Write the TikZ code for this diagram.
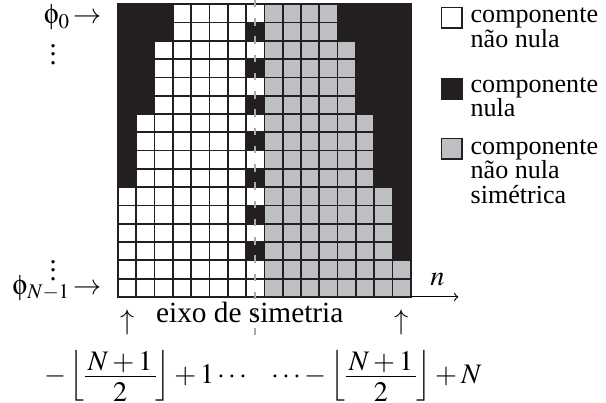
\documentclass[tikz,border=0pt]{standalone}
\usepackage{mathptmx}
\usepackage[Symbol]{upgreek}
\usepackage{fontspec}
\setmainfont{Liberation Serif}
\usetikzlibrary{positioning}
\definecolor{nullblack}{RGB}{35,31,32}
\definecolor{symgray}{RGB}{190,191,195}
\definecolor{axisgray}{RGB}{170,170,170}
\newcommand{\halffrac}[2]{\vcenter{\offinterlineskip\halign{\hfil$\,##\,$\hfil\cr#1\cr\noalign{\kern1.5pt\hrule\kern2.5pt}#2\cr}}}
\tikzset{
  cell/.style={draw=nullblack,line width=0.8pt,fill=white},
  symcell/.style={cell,fill=symgray},
  legbox/.style={draw=nullblack,line width=0.9pt,minimum size=9.6pt,inner sep=0pt},
  legtext/.style={anchor=base west,align=left,inner sep=0pt,font=\fontsize{12}{11.2}\selectfont}
}

\begin{document}
\begin{tikzpicture}[x=0.296cm,y=0.296cm,font=\fontsize{13}{15}\selectfont]
\useasboundingbox (-6.45,-5.79) rectangle (26.67,16.23);
\fill[nullblack] (0,0) rectangle (16,16);
\foreach \c/\t in {0/5,1/9,2/13,3/15,4/15,5/15,6/15}
  \foreach \j in {0,...,\t}
    \draw[cell] (\c,\j) rectangle ++(1,1);
\foreach \j in {0,1,3,5,7,9,11,13,15}
  \draw[cell] (7,\j) rectangle ++(1,1);
\foreach \c/\t in {8/15,9/15,10/15,11/15,12/13,13/9,14/5,15/1}
  \foreach \j in {0,...,\t}
    \draw[symcell] (\c,\j) rectangle ++(1,1);
\draw[nullblack,line width=0.8pt] (0,0) rectangle (16,16);

\coordinate (symtop) at (7.5,16.23);
\coordinate (symbot) at (7.5,-2.1);
\draw[axisgray,line width=0.8pt,dash pattern=on 3.4pt off 5pt] (symtop) -- (symbot);

\coordinate (gridcorner) at (16,0);
\coordinate (nend) at (18.6,0);
\draw[->,line width=0.5pt] (gridcorner) -- (nend);
\node (nlabel) at (17.46,0.93) {$n$};

\node[anchor=base east,inner sep=0pt] (phifirst) at (-0.87,14.92) {$\upphi_0\!\rightarrow$};
\node[inner sep=0pt] (dotsup) at (-3.55,13.6) {$\vdots$};
\node[inner sep=0pt] (dotsdown) at (-3.55,1.8) {$\vdots$};
\node[anchor=base east,inner sep=0pt] (philast) at (-0.87,0.13) {$\upphi_{N-1}\!\rightarrow$};

\node[inner sep=0pt] (upfirst) at (0.5,-1.37) {$\uparrow$};
\node[inner sep=0pt] (uplast) at (15.5,-1.37) {$\uparrow$};
\node[anchor=base,inner sep=0pt,font=\fontsize{13.5}{15}\selectfont] (symlabel) at (7.2,-1.42) {eixo de simetria};
\node[inner sep=0pt] (idxfirst) at (1.53,-4.33) {$-\left\lfloor\halffrac{N+1}{2}\right\rfloor+1\cdots$};
\node[inner sep=0pt] (idxlast) at (14.12,-4.33) {$\cdots-\left\lfloor\halffrac{N+1}{2}\right\rfloor+N$};

\node[legbox,fill=white] (keyfull) at (18.25,15.25) {};
\node[legbox,fill=nullblack] (keynull) at (18.25,11.37) {};
\node[legbox,fill=symgray] (keysym) at (18.25,8.09) {};
\node[legtext] (txtfull) at (19.25,13.66) {componente\\não nula};
\node[legtext] (txtnull) at (19.25,9.85) {componente\\nula};
\node[legtext] (txtsym) at (19.25,5.12) {componente\\não nula\\simétrica};
\end{tikzpicture}
\end{document}
